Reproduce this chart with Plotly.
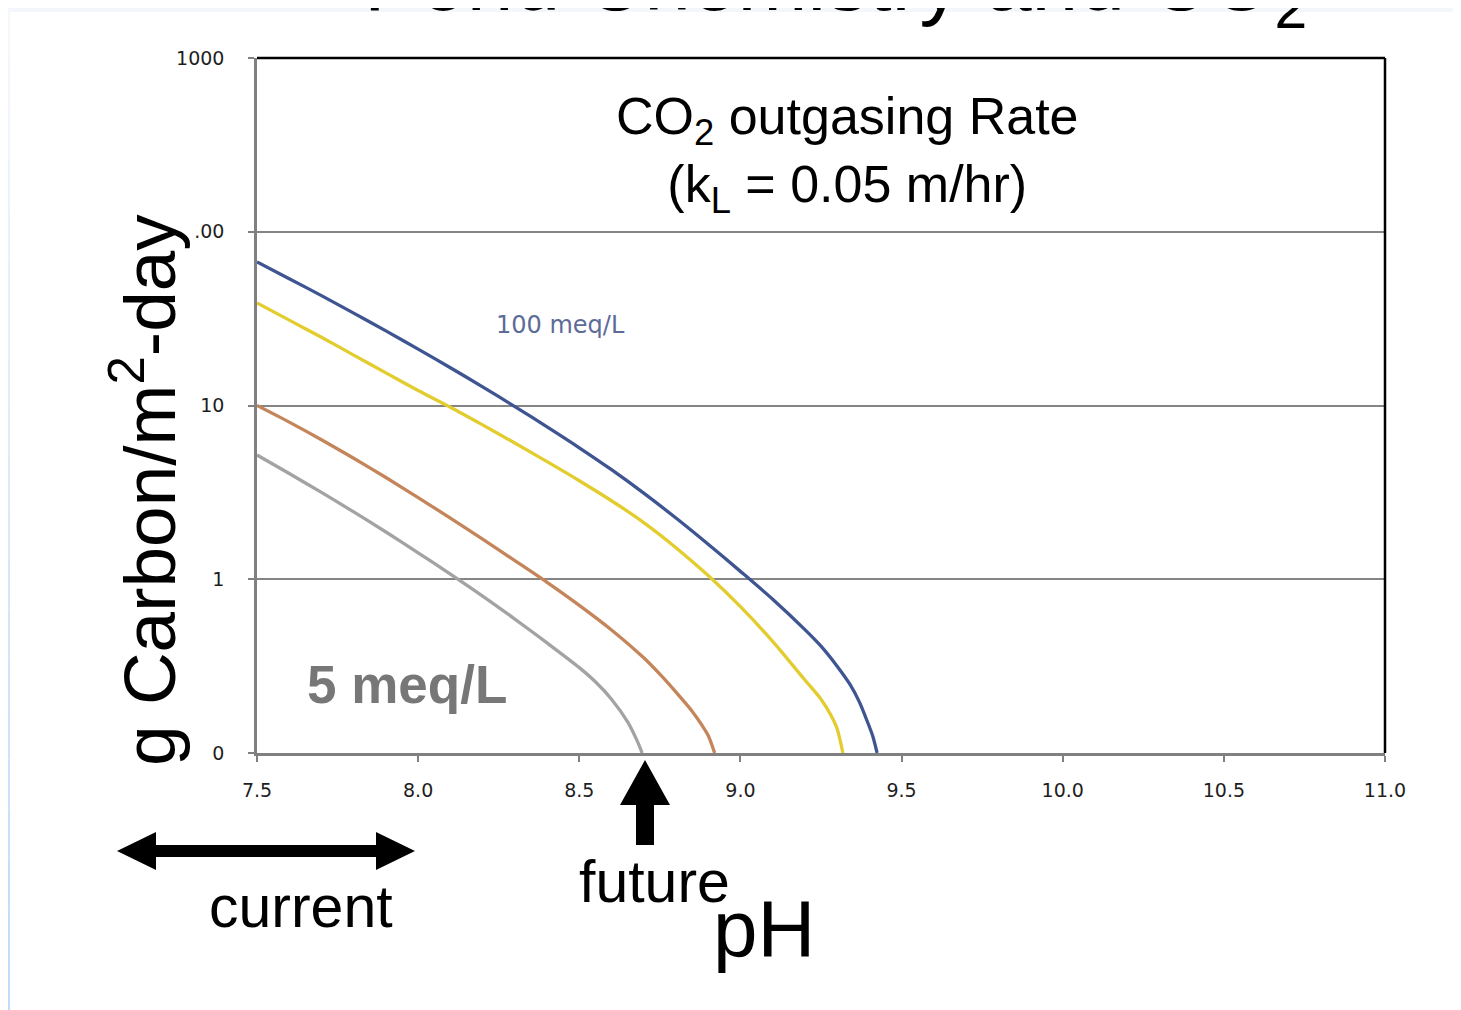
import plotly.graph_objects as go

# ---------------- data ----------------
ph_100 = [7.5, 7.6, 7.7, 7.8, 7.9, 8.0, 8.1, 8.2, 8.3, 8.4, 8.5, 8.6, 8.7, 8.8, 8.9, 9.0,
          9.1, 9.2, 9.25, 9.3, 9.34, 9.37, 9.39, 9.41, 9.424]
co2_100 = [67.0, 53.7, 42.9, 34.0, 26.9, 21.1, 16.5, 12.8, 9.86, 7.53, 5.71, 4.27, 3.13, 2.25, 1.59, 1.11,
           0.767, 0.513, 0.412, 0.316, 0.248, 0.195, 0.158, 0.126, 0.100]

ph_50 = [7.5, 7.6, 7.7, 7.8, 7.9, 8.0, 8.1, 8.2, 8.3, 8.4, 8.5, 8.6, 8.7, 8.8, 8.9, 9.0,
         9.1, 9.2, 9.25, 9.28, 9.3, 9.318]
co2_50 = [38.9, 31.0, 24.7, 19.5, 15.4, 12.2, 9.77, 7.73, 6.08, 4.75, 3.69, 2.83, 2.12, 1.52, 1.05, 0.695,
          0.439, 0.263, 0.204, 0.166, 0.138, 0.100]

ph_10 = [7.5, 7.6, 7.7, 7.8, 7.9, 8.0, 8.1, 8.2, 8.3, 8.4, 8.5, 8.6, 8.7, 8.75, 8.8, 8.85,
         8.88, 8.9, 8.92]
co2_10 = [10.0, 8.02, 6.35, 4.97, 3.85, 2.95, 2.25, 1.70, 1.28, 0.96, 0.708, 0.511, 0.353, 0.284, 0.224, 0.174,
          0.145, 0.126, 0.100]

ph_5 = [7.5, 7.6, 7.7, 7.8, 7.9, 8.0, 8.1, 8.2, 8.3, 8.4, 8.5, 8.55, 8.6, 8.65, 8.68, 8.695]
co2_5 = [5.19, 4.06, 3.16, 2.44, 1.87, 1.42, 1.07, 0.80, 0.59, 0.43, 0.31, 0.257, 0.204, 0.151, 0.117, 0.100]

x_ticks = [7.5, 8.0, 8.5, 9.0, 9.5, 10.0, 10.5, 11.0]
x_ticktext = ["7.5", "8.0", "8.5", "9.0", "9.5", "10.0", "10.5", "11.0"]
y_ticks = [0.1, 1, 10, 100, 1000]
y_ticktext = ["0", "1", "10", ".00", "1000"]

series = [
    ("100 meq/L", ph_100, co2_100, "#3f5592"),
    ("50 meq/L", ph_50, co2_50, "#e3cc2e"),
    ("10 meq/L", ph_10, co2_10, "#c4855a"),
    ("5 meq/L", ph_5, co2_5, "#a3a3a3"),
]

# ---------------- layout geometry (page pixels; the page body adds an 8px offset) ----------------
OFF = 8
PW, PH = 1461, 1010
L, R, T, B = 257, 1385, 58, 753
W, H = PW - OFF, PH - OFF


def px(x):
    return (x - L) / (R - L)


def py(y):
    return (B - y) / (B - T)


fig = go.Figure()
for name, xs, ys, col in series:
    fig.add_trace(go.Scatter(x=xs, y=ys, mode="lines", name=name,
                             line=dict(color=col, width=3.3, shape="spline", smoothing=0.8),
                             showlegend=False, hoverinfo="x+y"))

FONT = "Liberation Sans, Arial, sans-serif"
TICKFONT = "DejaVu Sans, sans-serif"

shapes = []
# slide background: light blue gradient strip on the left, faint band on top
n = 20
for i in range(n):
    t = i / (n - 1)
    r_ = int(244 + (192 - 244) * t)
    g_ = int(248 + (220 - 248) * t)
    b_ = int(253 + (248 - 253) * t)
    y0 = OFF + i * (PH - OFF) / n
    y1 = OFF + (i + 1) * (PH - OFF) / n
    shapes.append(dict(type="rect", xref="paper", yref="paper",
                       x0=px(0), x1=px(10), y0=py(y1), y1=py(y0),
                       fillcolor=f"rgb({r_},{g_},{b_})", line=dict(width=0), layer="below"))
shapes.append(dict(type="rect", xref="paper", yref="paper",
                   x0=px(10), x1=px(PW), y0=py(12), y1=py(0),
                   fillcolor="#f3f7fc", line=dict(width=0), layer="below"))

# black top and right border
shapes.append(dict(type="line", xref="paper", yref="paper", x0=0, x1=1, y0=1, y1=1,
                   line=dict(color="black", width=2.5)))
shapes.append(dict(type="line", xref="paper", yref="paper", x0=1, x1=1, y0=0, y1=1,
                   line=dict(color="black", width=2.5)))


def poly(pts):
    d = "M " + " L ".join(f"{px(a)},{py(b)}" for a, b in pts) + " Z"
    return dict(type="path", xref="paper", yref="paper", path=d,
                fillcolor="black", line=dict(color="black", width=0))


# double-headed arrow ("current")
ay = 851
shapes.append(poly([(117, ay), (156, ay - 19), (156, ay - 6), (376, ay - 6), (376, ay - 19),
                    (415, ay), (376, ay + 19), (376, ay + 6), (156, ay + 6), (156, ay + 19)]))
# up arrow ("future")
shapes.append(poly([(645, 760), (670, 805), (654, 805), (654, 845), (636, 845), (636, 805), (620, 805)]))

annotations = [
    dict(text="Pond Chemistry and CO<sub>2</sub>", x=px(835), y=py(42), xref="paper", yref="paper",
         xanchor="center", yanchor="bottom", showarrow=False,
         font=dict(family=FONT, size=84, color="black")),
    dict(text="CO<sub>2</sub> outgasing Rate<br>(k<sub>L</sub> = 0.05 m/hr)", x=px(847), y=py(154),
         xref="paper", yref="paper", xanchor="center", yanchor="middle", showarrow=False,
         font=dict(family=FONT, size=52, color="black")),
    dict(text="100 meq/L", x=px(560), y=py(325), xref="paper", yref="paper",
         xanchor="center", yanchor="middle", showarrow=False,
         font=dict(family=TICKFONT, size=24, color="#5d6b99")),
    dict(text="<b>5 meq/L</b>", x=px(407), y=py(684), xref="paper", yref="paper",
         xanchor="center", yanchor="middle", showarrow=False,
         font=dict(family=FONT, size=53, color="#777777")),
    dict(text="g Carbon/m<sup>2</sup>-day", x=px(144), y=py(490), xref="paper", yref="paper",
         xanchor="center", yanchor="middle", textangle=-90, showarrow=False,
         font=dict(family=FONT, size=73, color="black")),
    dict(text="current", x=px(301), y=py(907), xref="paper", yref="paper",
         xanchor="center", yanchor="middle", showarrow=False,
         font=dict(family=FONT, size=59, color="black")),
    dict(text="future", x=px(654), y=py(882), xref="paper", yref="paper",
         xanchor="center", yanchor="middle", showarrow=False,
         font=dict(family=FONT, size=59, color="black")),
    dict(text="pH", x=px(764), y=py(928), xref="paper", yref="paper",
         xanchor="center", yanchor="middle", showarrow=False,
         font=dict(family=FONT, size=80, color="black")),
]

fig.update_layout(
    width=W, height=H, autosize=False,
    margin=dict(l=L - OFF, r=PW - R, t=T - OFF, b=PH - B, pad=0),
    paper_bgcolor="white", plot_bgcolor="white",
    shapes=shapes, annotations=annotations,
    xaxis=dict(range=[7.5, 11.0], tickmode="array", tickvals=x_ticks, ticktext=x_ticktext,
               showgrid=False, zeroline=False, showline=True, linecolor="#808080", linewidth=2.5,
               ticks="outside", ticklen=6, tickcolor="#808080", tickwidth=1.5,
               ticklabelstandoff=12,
               tickfont=dict(family=TICKFONT, size=19, color="#1e1e1e")),
    yaxis=dict(type="log", range=[-1, 3], tickmode="array", tickvals=y_ticks, ticktext=y_ticktext,
               showgrid=True, gridcolor="#858585", gridwidth=2, zeroline=False,
               showline=True, linecolor="#808080", linewidth=2.5,
               ticks="outside", ticklen=6, tickcolor="#808080", tickwidth=1.5,
               ticklabelstandoff=20,
               tickfont=dict(family=TICKFONT, size=19, color="#1e1e1e")),
)

fig.write_html("out.html")
